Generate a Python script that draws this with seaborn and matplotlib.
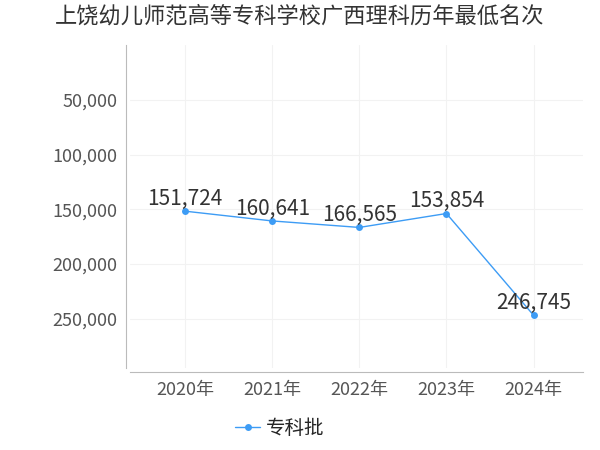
import matplotlib
matplotlib.use("Agg")
import matplotlib.pyplot as plt
import seaborn as sns
import pandas as pd

years = ["2020年", "2021年", "2022年", "2023年", "2024年"]
ranks = [151724, 160641, 166565, 153854, 246745]
series = "专科批"
title = "上饶幼儿师范高等专科学校广西理科历年最低名次"

sns.set_style("white")
plt.rcParams['font.family'] = ['Noto Sans CJK SC', 'DejaVu Sans']

df = pd.DataFrame({"year": years, "rank": ranks, "batch": series})

fig = plt.figure(figsize=(6, 4.5), dpi=100)
ax = fig.add_axes([0.217, 0.182, 0.755, 0.718])
color = "#3d9cf5"
sns.lineplot(data=df, x="year", y="rank", hue="batch", palette=[color],
             marker="o", markersize=5, markeredgewidth=0, linewidth=1, ax=ax, sort=False)

for i, v in enumerate(ranks):
    ax.text(i, v - 1000, f"{v:,}", ha="center", va="bottom", fontsize=15, color="#333333")

ax.set_ylim(295000, 0)
ax.set_xlim(-0.63, 4.57)
ax.set_yticks([50000, 100000, 150000, 200000, 250000])
ax.yaxis.set_major_formatter(matplotlib.ticker.FuncFormatter(lambda v, p: f"{int(v):,}"))
ax.tick_params(axis="both", labelsize=13, colors="#555555", length=0, pad=6)
ax.grid(True, color="#f2f2f2", linewidth=0.8)
ax.set_xlabel("")
ax.set_ylabel("")
for s in ["top", "right"]:
    ax.spines[s].set_visible(False)
ax.spines["left"].set_color("#bbbbbb")
ax.spines["bottom"].set_color("#bbbbbb")
ax.spines["left"].set_position(("outward", 3))
ax.spines["bottom"].set_position(("outward", 3))

ax.legend(loc="upper center", bbox_to_anchor=(0.33, -0.1), frameon=False,
          fontsize=14, handlelength=1.3, handletextpad=0.3)
fig.suptitle(title, x=0.5, y=0.99, fontsize=16, color="#333333")
fig.savefig("out.png", dpi=100)
